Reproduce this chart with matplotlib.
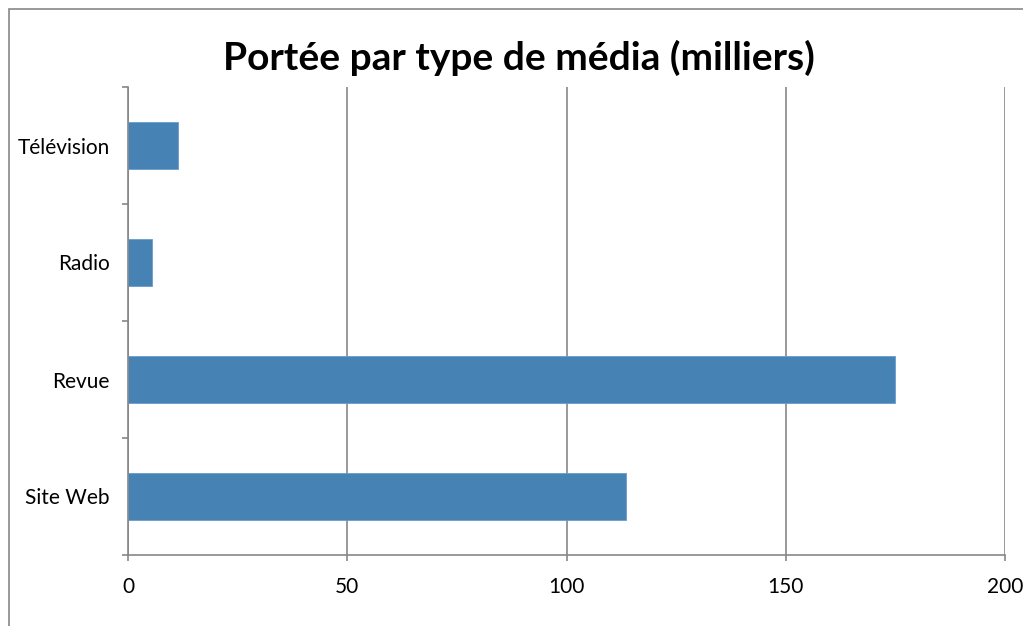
import matplotlib.pyplot as plt
import matplotlib.patches as mpatches
import numpy as np

# Données
categories = ["Télévision", "Radio", "Revue", "Site Web"]
portee = [11.5, 5.5, 175, 113.5]
x_ticks = [0, 50, 100, 150, 200]

COR_BARRE = "#4682B4"
COR_GRILLE = "#878787"

plt.rcParams["font.family"] = ["Lato", "DejaVu Sans"]

fig = plt.figure(figsize=(10.23, 6.26), dpi=100)
fig.patch.set_facecolor("#FFFFFF")

# cadre extérieur du graphique (coupé à droite et en bas)
fig.patches.append(mpatches.Rectangle(
    (9 / 1023, -0.05), 1.1, 1 - 9 / 626 + 0.05,
    transform=fig.transFigure, facecolor="none",
    edgecolor=COR_GRILLE, linewidth=1.2, zorder=0))

ax = fig.add_axes([128 / 1023, 1 - 555 / 626, (1005 - 128) / 1023, (555 - 87) / 626])

y = np.arange(len(categories))
ax.barh(y, portee, height=0.4, color=COR_BARRE, edgecolor="#6A9BCB",
        linewidth=0.6, zorder=3)

ax.set_xlim(0, 200)
ax.set_ylim(len(categories) - 0.5, -0.5)

ax.set_xticks(x_ticks)
ax.set_xticklabels([str(t) for t in x_ticks], fontsize=15, color="#000000")
ax.tick_params(axis="x", direction="out", length=4.5, width=1.2,
               color=COR_GRILLE, pad=11)
ax.grid(axis="x", color=COR_GRILLE, linewidth=1.2, zorder=1)

ax.set_yticks(y)
ax.set_yticklabels(categories, fontsize=15, color="#000000")
ax.tick_params(axis="y", which="major", length=0, pad=13)
ax.set_yticks(np.arange(-0.5, len(categories)), minor=True)
ax.tick_params(axis="y", which="minor", direction="out", length=4.5,
               width=1.2, color=COR_GRILLE)

for s in ["top", "right"]:
    ax.spines[s].set_visible(False)
for s in ["left", "bottom"]:
    ax.spines[s].set_color(COR_GRILLE)
    ax.spines[s].set_linewidth(1.2)
    ax.spines[s].set_zorder(4)

fig.text(0.507, 1 - 58 / 626, "Portée par type de média (milliers)",
         ha="center", va="center", fontsize=28, fontweight="bold",
         color="#000000")

plt.savefig("out.png", dpi=100, facecolor="#FFFFFF")
